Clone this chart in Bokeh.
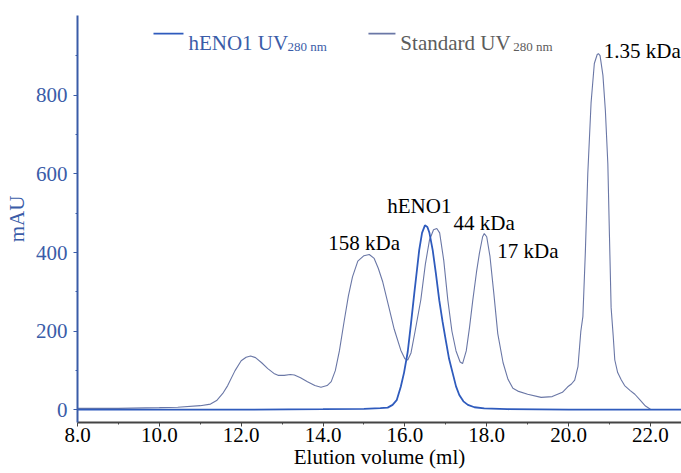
from bokeh.plotting import figure
from bokeh.models import Range1d, Label, FixedTicker, NumeralTickFormatter, BoxAnnotation
from bokeh.embed import file_html
from bokeh.resources import INLINE

# ---- data ----
std_x = [8.0, 9.0, 10.0, 10.45, 11.0, 11.25, 11.4, 11.55, 11.67, 11.85, 12.0, 12.12, 12.23,
         12.35, 12.5, 12.65, 12.8, 12.9, 13.05, 13.2, 13.3, 13.45, 13.62, 13.8, 13.95,
         14.1, 14.2, 14.3, 14.4, 14.52, 14.62, 14.72, 14.85, 15.0, 15.13, 15.25, 15.35,
         15.46, 15.6, 15.74, 15.9, 16.0, 16.07, 16.15, 16.25, 16.39, 16.5, 16.6, 16.7,
         16.78, 16.85, 16.95, 17.05, 17.15, 17.25, 17.35, 17.41, 17.5, 17.58, 17.66,
         17.75, 17.82, 17.9, 17.94, 18.0, 18.08, 18.17, 18.27, 18.4, 18.52, 18.64, 18.76,
         19.0, 19.33, 19.6, 19.85, 19.98, 20.07, 20.15, 20.23, 20.3, 20.35, 20.41, 20.47,
         20.55, 20.63, 20.7, 20.73, 20.77, 20.84, 20.9, 20.96, 21.0, 21.04, 21.09, 21.13,
         21.2, 21.29, 21.37, 21.5, 21.62, 21.75, 21.88, 22.0]
std_y = [4, 4, 6, 7, 11, 15, 24, 42, 62, 100, 125, 134, 137, 133, 120, 105, 93, 88, 88,
         90, 89, 82, 72, 62, 58, 62, 72, 100, 150, 228, 290, 338, 378, 392, 395, 385, 360,
         325, 265, 205, 152, 130, 127, 145, 200, 280, 370, 431, 458, 461, 450, 380, 279,
         200, 150, 122, 118, 150, 210, 279, 350, 397, 440, 448, 440, 390, 300, 194, 120,
         78, 55, 48, 40, 32, 34, 45, 59, 66, 76, 110, 200, 237, 400, 600, 780, 880, 903,
         905, 900, 850, 760, 625, 440, 260, 190, 127, 95, 76, 62, 50, 40, 25, 10, 2]

heno_x = [8.0, 10.0, 12.0, 14.0, 15.0, 15.4, 15.58, 15.7, 15.8, 15.9, 15.98, 16.07, 16.15,
          16.23, 16.3, 16.35, 16.42, 16.49, 16.55, 16.6, 16.68, 16.76, 16.84, 16.92, 17.0,
          17.08, 17.17, 17.25, 17.33, 17.43, 17.54, 17.7, 17.94, 18.5, 20.0, 22.0, 22.8]
heno_y = [1, 1, 1, 2, 3, 5, 6, 13, 25, 59, 95, 148, 220, 296, 360, 406, 450, 469, 465, 450,
          406, 345, 279, 225, 177, 130, 93, 60, 38, 22, 13, 7, 4, 2, 1, 1, 1]

x_major = [8, 10, 12, 14, 16, 18, 20, 22]
x_minor = [9, 11, 13, 15, 17, 19, 21]
y_major = [0, 200, 400, 600, 800]
y_minor = [100, 300, 500, 700, 900]

peak_names = ["158 kDa", "hENO1", "44 kDa", "17 kDa", "1.35 kDa"]
# label anchors (left edge, vertical middle) in data units
peak_lab_x = [14.13, 15.57, 17.19, 18.26, 20.86]
peak_lab_y = [425, 519, 476, 404, 912]

legend_names = ["hENO1 UV", "Standard UV"]
legend_sub = "280 nm"

BLUE = "#2f5bbd"
AXBLUE = "#3a5ca8"
STDCOL = "#6a77a6"
GRAYTXT = "#5c5c5c"
FONT = "Liberation Serif"

p = figure(width=681, height=473, output_backend="svg", toolbar_location=None,
           x_range=Range1d(8.0, 22.76), y_range=Range1d(-31.75, 1002),
           min_border_left=77, min_border_top=15, min_border_bottom=51, min_border_right=0)
p.outline_line_color = None
p.grid.visible = False
p.background_fill_color = "white"
p.border_fill_color = "white"

std_r = p.line(std_x, std_y, line_color=STDCOL, line_width=1.1)
heno_r = p.line(heno_x, heno_y, line_color=BLUE, line_width=1.8)

# x axis
xa = p.xaxis[0]
xa.ticker = FixedTicker(ticks=x_major, minor_ticks=x_minor)
xa.formatter = NumeralTickFormatter(format="0.0")
xa.axis_line_color = "#444444"
xa.axis_line_width = 2
xa.major_tick_line_color = "#444444"
xa.minor_tick_line_color = "#444444"
xa.major_tick_out = 4
xa.major_tick_in = 0
xa.minor_tick_out = 2
xa.minor_tick_in = 0
xa.major_label_text_font = FONT
xa.major_label_text_font_size = "21px"
xa.major_label_text_color = "black"
xa.major_label_standoff = 1
xa.axis_label = "Elution volume (ml)"
xa.axis_label_text_font = FONT
xa.axis_label_text_font_size = "21px"
xa.axis_label_text_font_style = "normal"
xa.axis_label_text_color = "black"
xa.axis_label_standoff = 0

# y axis
ya = p.yaxis[0]
ya.ticker = FixedTicker(ticks=y_major, minor_ticks=y_minor)
ya.axis_line_color = AXBLUE
ya.axis_line_width = 2
ya.major_tick_line_color = AXBLUE
ya.minor_tick_line_color = AXBLUE
ya.major_tick_out = 4
ya.major_tick_in = 0
ya.minor_tick_out = 2
ya.minor_tick_in = 0
ya.major_label_text_font = FONT
ya.major_label_text_font_size = "21px"
ya.major_label_text_color = AXBLUE
ya.major_label_standoff = 6
ya.axis_label = "mAU"
ya.axis_label_text_font = FONT
ya.axis_label_text_font_size = "21px"
ya.axis_label_text_font_style = "normal"
ya.axis_label_text_color = AXBLUE
ya.axis_label_standoff = 4

# legend (manual, so each entry can have its own colour and a subscript)
leg_line_x0 = [9.857, 15.11]
leg_line_x1 = [10.59, 15.77]
leg_text_x = [10.71, 15.89]
leg_sub_x = [13.13, 18.65]
leg_cols_line = [BLUE, STDCOL]
leg_cols_text = [AXBLUE, GRAYTXT]
leg_line_y = 956
leg_text_y = 931
leg_sub_y = 924
for i in range(2):
    p.add_layout(BoxAnnotation(left=leg_line_x0[i], right=leg_line_x1[i],
                               bottom=leg_line_y - 2, top=leg_line_y + 2,
                               fill_color=leg_cols_line[i], fill_alpha=1,
                               line_color=None))
    p.add_layout(Label(x=leg_text_x[i], y=leg_text_y, text=legend_names[i],
                       text_font=FONT, text_font_size="21px", text_color=leg_cols_text[i],
                       text_baseline="alphabetic", text_align="left"))
    p.add_layout(Label(x=leg_sub_x[i], y=leg_sub_y, text=legend_sub,
                       text_font=FONT, text_font_size="13px", text_color=leg_cols_text[i],
                       text_baseline="alphabetic", text_align="left"))

for name, lx, ly in zip(peak_names, peak_lab_x, peak_lab_y):
    p.add_layout(Label(x=lx, y=ly, text=name, text_font=FONT, text_font_size="21px",
                       text_color="black", text_baseline="middle", text_align="left"))

open("out.html", "w").write(file_html(p, INLINE))
